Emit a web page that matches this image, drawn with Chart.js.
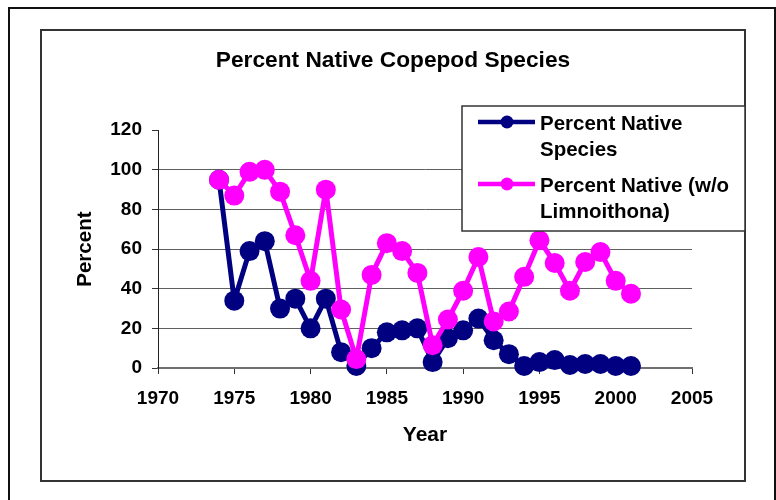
<!DOCTYPE html>
<html>
<head>
<meta charset="utf-8">
<script src="https://cdn.jsdelivr.net/npm/chart.js@4"></script>
<style>
  html, body { margin: 0; padding: 0; background: #fff; }
  #c { display: block; }
</style>
</head>
<body>
<canvas id="c" width="776" height="500"></canvas>
<script>
// ---- data ----
const years = [1974,1975,1976,1977,1978,1979,1980,1981,1982,1983,1984,1985,1986,1987,1988,1989,1990,1991,1992,1993,1994,1995,1996,1997,1998,1999,2000,2001];
const nativeSpecies = [95,34,59,64,30,35,20,35,8,1,10,18,19,20,3,15,19,25,14,7,1,3,4,1.5,2,2,1,1];
const nativeNoLimno = [95,87,99,100,89,67,44,90,29.5,4.5,47,63,59,48,11.5,24.5,39,56,23.5,28.5,46,64.5,53,39,53.5,58.5,44,37.5];
const seriesNames = [["Percent Native", "Species"], ["Percent Native (w/o", "Limnoithona)"]];
const yTicks = [0,20,40,60,80,100,120];
const xTicks = [1970,1975,1980,1985,1990,1995,2000,2005];

const FONT = '"Liberation Sans", Arial, sans-serif';
const NAVY = '#000080';
const PINK = '#FF00FF';

const toPts = (vals) => years.map((y, i) => ({ x: y, y: vals[i] }));

const framePlugin = {
  id: 'frames',
  beforeDraw(chart) {
    const ctx = chart.ctx;
    ctx.save();
    ctx.fillStyle = '#fff';
    ctx.fillRect(0, 0, chart.width, chart.height);
    ctx.strokeStyle = '#111';
    ctx.lineWidth = 2;
    ctx.strokeRect(9, 8, 766, 500);
    ctx.strokeStyle = '#333';
    ctx.lineWidth = 2;
    ctx.strokeRect(41, 30, 704, 451);
    ctx.restore();
  }
};

const legendPlugin = {
  id: 'boxLegend',
  afterDraw(chart) {
    const ctx = chart.ctx;
    ctx.save();
    const bx = 462, by = 106, bw = 283, bh = 125;
    ctx.fillStyle = '#fff';
    ctx.fillRect(bx, by, bw, bh);
    ctx.strokeStyle = '#333';
    ctx.lineWidth = 1.5;
    ctx.strokeRect(bx, by, bw, bh);
    const entries = [
      { color: NAVY, y: 122, lines: seriesNames[0] },
      { color: PINK, y: 184, lines: seriesNames[1] }
    ];
    ctx.font = 'bold 20.5px ' + FONT;
    ctx.textBaseline = 'middle';
    ctx.textAlign = 'left';
    entries.forEach(e => {
      ctx.strokeStyle = e.color;
      ctx.lineWidth = 4.5;
      ctx.beginPath();
      ctx.moveTo(478, e.y);
      ctx.lineTo(535, e.y);
      ctx.stroke();
      ctx.fillStyle = e.color;
      ctx.beginPath();
      ctx.arc(507, e.y, 6.5, 0, Math.PI * 2);
      ctx.fill();
      ctx.fillStyle = '#000';
      e.lines.forEach((t, k) => ctx.fillText(t, 540, e.y + 2 + k * 26));
    });
    ctx.restore();
  }
};

new Chart(document.getElementById('c'), {
  type: 'line',
  data: {
    datasets: [
      {
        label: 'Percent Native (w/o Limnoithona)',
        data: toPts(nativeNoLimno),
        borderColor: PINK,
        backgroundColor: PINK,
        borderWidth: 5,
        borderJoinStyle: 'round',
        pointRadius: 10,
        pointBorderWidth: 0,
        pointBackgroundColor: PINK,
        tension: 0,
        clip: false
      },
      {
        label: 'Percent Native Species',
        data: toPts(nativeSpecies),
        borderColor: NAVY,
        backgroundColor: NAVY,
        borderWidth: 5,
        borderJoinStyle: 'round',
        pointRadius: 10,
        pointBorderWidth: 0,
        pointBackgroundColor: NAVY,
        tension: 0,
        clip: false
      }
    ]
  },
  options: {
    responsive: false,
    animation: false,
    devicePixelRatio: 1,
    layout: { padding: { left: 94, right: 84, top: 0, bottom: 30 } },
    plugins: {
      legend: { display: false },
      tooltip: { enabled: false },
      title: {
        display: true,
        text: 'Percent Native Copepod Species',
        color: '#000',
        font: { family: FONT, size: 22.7, weight: 'bold', lineHeight: 1.2 },
        padding: { top: 47, bottom: 56 }
      }
    },
    scales: {
      x: {
        type: 'linear',
        min: 1970,
        max: 2005,
        afterFit(s) { s.height = 102; },
        afterBuildTicks(s) { s.ticks = xTicks.map(v => ({ value: v })); },
        ticks: {
          color: '#000',
          font: { family: FONT, size: 19, weight: 'bold', lineHeight: 1.2 },
          padding: 13,
          maxRotation: 0,
          autoSkip: false,
          callback: v => String(v)
        },
        grid: {
          drawOnChartArea: false,
          drawTicks: true,
          tickLength: 6,
          tickColor: '#333',
          lineWidth: 1
        },
        border: { display: true, color: '#707070', width: 2 },
        title: {
          display: true,
          text: 'Year',
          color: '#000',
          font: { family: FONT, size: 21, weight: 'bold', lineHeight: 1.2 },
          padding: { top: 0, bottom: 22.4 }
        }
      },
      y: {
        type: 'linear',
        min: 0,
        max: 120,
        afterFit(s) { s.width = 64; },
        afterBuildTicks(s) { s.ticks = yTicks.map(v => ({ value: v })); },
        ticks: {
          color: '#000',
          font: { family: FONT, size: 19, weight: 'bold', lineHeight: 1.2 },
          padding: 10,
          callback: v => String(v)
        },
        grid: {
          drawTicks: true,
          tickLength: 6,
          tickColor: '#333',
          lineWidth: 1,
          color: ctx => (ctx.tick && (ctx.tick.value === 120 || ctx.tick.value === 0)) ? 'rgba(0,0,0,0)' : '#606060'
        },
        border: { display: true, color: '#222', width: 1 },
        title: {
          display: true,
          text: 'Percent',
          color: '#000',
          font: { family: FONT, size: 20.5, weight: 'bold', lineHeight: 1.2 },
          padding: { top: -21.3, bottom: 0 }
        }
      }
    }
  },
  plugins: [framePlugin, legendPlugin]
});
</script>
</body>
</html>
